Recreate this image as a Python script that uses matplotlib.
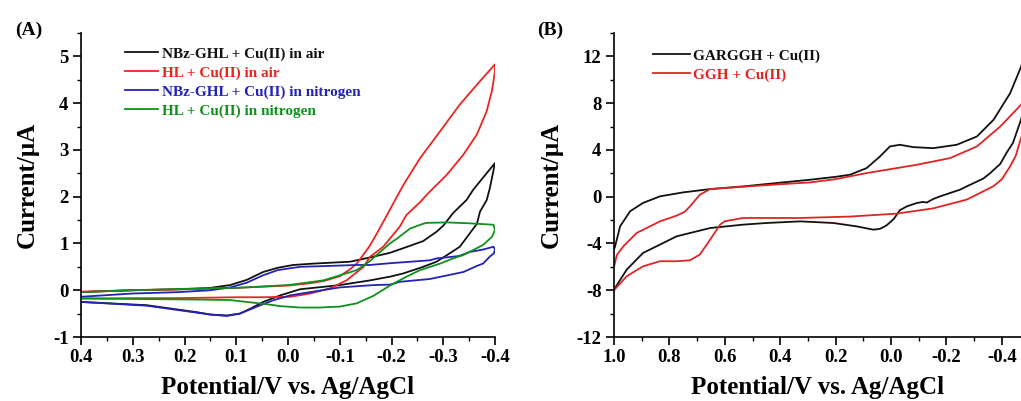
import matplotlib
matplotlib.use("Agg")
import matplotlib.pyplot as plt
from matplotlib.ticker import MultipleLocator, FormatStrFormatter

plt.rcParams['font.family'] = ['Liberation Serif', 'DejaVu Serif']
plt.rcParams['font.weight'] = 'bold'
plt.rcParams['axes.unicode_minus'] = False

# ---------------- Panel A data ----------------
labels_A = ["NBz-GHL + Cu(II) in air", "HL + Cu(II) in air",
            "NBz-GHL + Cu(II) in nitrogen", "HL + Cu(II) in nitrogen"]
colors_A = ["#111111", "#e8251f", "#2323b8", "#10901c"]

V_black_A = [0.40, 0.30, 0.209, 0.15, 0.112, 0.08, 0.048, 0.02, -0.01, -0.05, -0.12, -0.158,
             -0.197, -0.223, -0.261, -0.287, -0.30, -0.319, -0.345, -0.358, -0.38, -0.40,
             -0.395, -0.39, -0.384, -0.371, -0.365, -0.332, -0.307, -0.287, -0.261, -0.223,
             -0.197, -0.158, -0.10, -0.023, 0.015, 0.048, 0.07, 0.093, 0.118, 0.15, 0.176,
             0.273, 0.40]
I_black_A = [-0.04, 0.00, 0.02, 0.05, 0.11, 0.22, 0.39, 0.48, 0.54, 0.57, 0.61, 0.70,
             0.80, 0.90, 1.05, 1.25, 1.38, 1.65, 1.93, 2.15, 2.45, 2.72,
             2.45, 2.18, 1.93, 1.68, 1.42, 0.93, 0.75, 0.61, 0.50, 0.36,
             0.29, 0.21, 0.11, 0.02, -0.11, -0.25, -0.38, -0.50, -0.54, -0.52, -0.47,
             -0.32, -0.25]

V_red_A = [0.40, 0.30, 0.20, 0.10, 0.0, -0.043, -0.07, -0.10, -0.12, -0.133, -0.145, -0.158,
           -0.171, -0.191, -0.207, -0.223, -0.255, -0.294, -0.332, -0.371, -0.40,
           -0.40, -0.394, -0.384, -0.365, -0.339, -0.307, -0.268, -0.255, -0.229, -0.216,
           -0.184, -0.158, -0.146, -0.113, -0.081, -0.043, -0.004, 0.05, 0.10, 0.22, 0.30, 0.40]
I_red_A = [-0.03, 0.00, 0.02, 0.05, 0.10, 0.15, 0.20, 0.30, 0.45, 0.57, 0.75, 0.95,
           1.20, 1.60, 1.93, 2.25, 2.82, 3.40, 3.97, 4.47, 4.83,
           4.68, 4.26, 3.83, 3.33, 2.90, 2.47, 2.04, 1.88, 1.61, 1.36,
           0.93, 0.71, 0.50, 0.21, 0.04, -0.07, -0.14, -0.15, -0.15, -0.17, -0.17, -0.18]

V_blue_A = [0.40, 0.30, 0.21, 0.15, 0.112, 0.08, 0.048, 0.02, -0.023, -0.08, -0.133, -0.158,
            -0.20, -0.274, -0.287, -0.33, -0.352, -0.377, -0.397, -0.40,
            -0.398, -0.39, -0.377, -0.365, -0.339, -0.326, -0.274, -0.216, -0.197, -0.165,
            -0.10, -0.043, -0.004, 0.03, 0.06, 0.093, 0.118, 0.15, 0.176, 0.273, 0.40]
I_blue_A = [-0.14, -0.07, -0.04, 0.00, 0.06, 0.16, 0.32, 0.43, 0.50, 0.52, 0.54, 0.54,
            0.58, 0.64, 0.68, 0.73, 0.82, 0.87, 0.93, 0.88,
            0.79, 0.72, 0.57, 0.52, 0.39, 0.36, 0.24, 0.18, 0.12, 0.11,
            0.06, -0.04, -0.11, -0.22, -0.35, -0.50, -0.55, -0.52, -0.48, -0.33, -0.25]

V_green_A = [0.40, 0.30, 0.20, 0.10, 0.0, -0.068, -0.133, -0.158, -0.171, -0.197, -0.21,
             -0.236, -0.261, -0.268, -0.307, -0.352, -0.397, -0.40,
             -0.394, -0.377, -0.365, -0.338, -0.319, -0.294, -0.255, -0.229, -0.197, -0.165,
             -0.133, -0.10, -0.06, -0.023, 0.015, 0.04, 0.112, 0.17, 0.36, 0.40]
I_green_A = [-0.04, 0.00, 0.03, 0.05, 0.11, 0.21, 0.43, 0.62, 0.75, 1.00, 1.10,
             1.32, 1.42, 1.44, 1.45, 1.43, 1.40, 1.29,
             1.14, 0.97, 0.90, 0.75, 0.68, 0.57, 0.43, 0.29, 0.10, -0.12,
             -0.28, -0.35, -0.37, -0.37, -0.34, -0.30, -0.21, -0.20, -0.18, -0.17]

# ---------------- Panel B data ----------------
labels_B = ["GARGGH + Cu(II)", "GGH + Cu(II)"]
colors_B = ["#111111", "#e02424"]

V_black_B = [1.0, 0.996, 0.978, 0.942, 0.895, 0.834, 0.75, 0.653, 0.534, 0.412, 0.292, 0.20,
             0.148, 0.088, 0.04, 0.004, -0.032, -0.08, -0.152, -0.237, -0.31, -0.37, -0.43,
             -0.469, -0.50,
             -0.50, -0.469, -0.44, -0.418, -0.394, -0.357, -0.333, -0.273, -0.249, -0.177,
             -0.152, -0.129, -0.115, -0.093, -0.057, -0.032, -0.01, 0.016, 0.04, 0.064,
             0.124, 0.208, 0.328, 0.45, 0.534, 0.653, 0.774, 0.895, 0.954, 0.996, 1.0]
I_black_B = [-4.5, -4.24, -2.54, -1.25, -0.53, 0.03, 0.37, 0.65, 0.88, 1.17, 1.45, 1.70,
             1.88, 2.45, 3.44, 4.30, 4.44, 4.24, 4.15, 4.44, 5.15, 6.58, 8.86,
             11.1, 13.5,
             9.5, 6.58, 4.6, 3.8, 2.8, 2.0, 1.55, 0.88, 0.60, 0.03,
             -0.20, -0.50, -0.45, -0.54, -0.83, -1.15, -1.90, -2.45, -2.75, -2.82,
             -2.54, -2.25, -2.11, -2.25, -2.39, -2.68, -3.39, -4.81, -6.23, -7.8, -8.0]

V_red_B = [1.0, 0.99, 0.966, 0.918, 0.834, 0.774, 0.745, 0.726, 0.69, 0.653, 0.534, 0.412,
           0.292, 0.20, 0.088, -0.093, -0.213, -0.31, -0.394, -0.469, -0.50,
           -0.50, -0.469, -0.45, -0.43, -0.40, -0.37, -0.273, -0.152, -0.02, 0.148, 0.328,
           0.534, 0.60, 0.617, 0.653, 0.69, 0.726, 0.774, 0.834, 0.895, 0.954, 1.0]
I_red_B = [-6.0, -5.0, -4.24, -3.1, -2.11, -1.62, -1.3, -0.83, 0.17, 0.65, 0.85, 1.05,
           1.22, 1.50, 2.02, 2.73, 3.30, 4.30, 6.00, 7.86, 8.9,
           7.0, 5.0, 3.5, 2.6, 1.5, 0.9, -0.25, -1.0, -1.45, -1.70, -1.82,
           -1.82, -2.1, -2.39, -3.67, -4.95, -5.44, -5.52, -5.52, -5.95, -6.8, -8.0]

# ---------------- Figure ----------------
fig = plt.figure(figsize=(10.21, 4.01), dpi=100)
axA = fig.add_axes([81/1021, 64/401, 414/1021, 304/401])
axB = fig.add_axes([614/1021, 64/401, 407/1021, 304/401])

seriesA = [(V_black_A, I_black_A), (V_red_A, I_red_A), (V_blue_A, I_blue_A), (V_green_A, I_green_A)]
for (v, i), c, lab in zip(seriesA, colors_A, labels_A):
    axA.plot(v, i, color=c, lw=1.3, label=lab)

seriesB = [(V_black_B, I_black_B), (V_red_B, I_red_B)]
for (v, i), c, lab in zip(seriesB, colors_B, labels_B):
    axB.plot(v, i, color=c, lw=1.3, label=lab)

axA.set_xlim(0.4, -0.4)
axA.set_ylim(-1, 5.5)
axA.xaxis.set_major_locator(MultipleLocator(0.1))
axA.xaxis.set_minor_locator(MultipleLocator(0.05))
axA.yaxis.set_major_locator(MultipleLocator(1))
axA.yaxis.set_minor_locator(MultipleLocator(0.5))
axA.xaxis.set_major_formatter(FormatStrFormatter('%.1f'))
axA.yaxis.set_major_formatter(FormatStrFormatter('%d'))

axB.set_xlim(1.0, -0.469)
axB.set_ylim(-12, 14)
axB.xaxis.set_major_locator(MultipleLocator(0.2))
axB.xaxis.set_minor_locator(MultipleLocator(0.1))
axB.yaxis.set_major_locator(MultipleLocator(4))
axB.yaxis.set_minor_locator(MultipleLocator(2))
axB.xaxis.set_major_formatter(FormatStrFormatter('%.1f'))
axB.yaxis.set_major_formatter(FormatStrFormatter('%d'))

for ax in (axA, axB):
    for s in ('top', 'right'):
        ax.spines[s].set_visible(False)
    for s in ('left', 'bottom'):
        ax.spines[s].set_linewidth(1.2)
    ax.tick_params(which='major', direction='out', length=6, width=1.2, labelsize=13.5, pad=3)
    ax.tick_params(which='minor', direction='out', length=3, width=1.0)
    for lbl in ax.get_xticklabels() + ax.get_yticklabels():
        lbl.set_fontweight('bold')
    ax.set_xlabel('Potential/V vs. Ag/AgCl', fontsize=18, fontweight='bold', labelpad=7)
    ax.set_ylabel('Current/μA', fontsize=18, fontweight='bold', labelpad=10)

legA = axA.legend(loc='upper left', bbox_to_anchor=(0.106, 0.955), frameon=False,
                  fontsize=11, labelcolor='linecolor', handlelength=2.15,
                  handletextpad=0.3, labelspacing=0.34, borderpad=0, borderaxespad=0)
legB = axB.legend(loc='upper left', bbox_to_anchor=(0.096, 0.948), frameon=False,
                  fontsize=11, labelcolor='linecolor', handlelength=2.4,
                  handletextpad=0.2, labelspacing=0.34, borderpad=0, borderaxespad=0)
for leg in (legA, legB):
    for t in leg.get_texts():
        t.set_fontweight('bold')

fig.text(15/1021, 1 - 30/401, '(A)', fontsize=14, fontweight='bold', va='center', ha='left')
fig.text(537/1021, 1 - 30/401, '(B)', fontsize=14, fontweight='bold', va='center', ha='left')

fig.savefig('out.png', dpi=100)
